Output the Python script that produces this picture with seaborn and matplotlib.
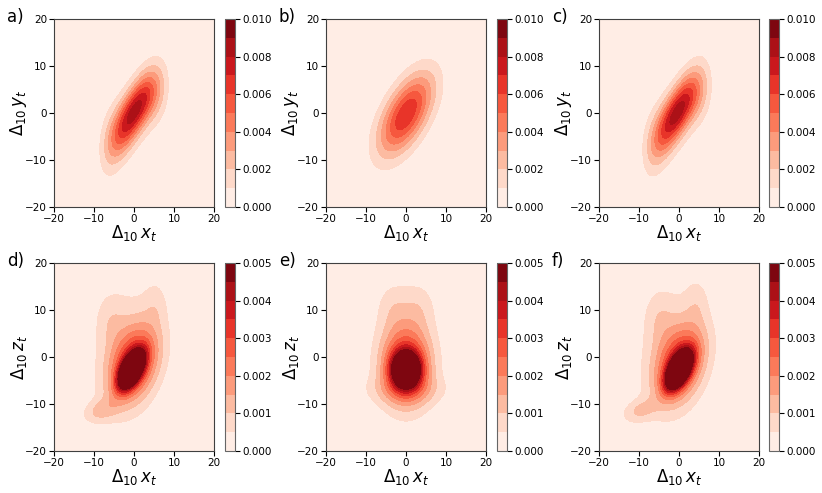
import numpy as np
import matplotlib
matplotlib.use("Agg")
import matplotlib.pyplot as plt
import matplotlib.ticker as mticker
import seaborn as sns

# each panel: weighted density centres,
# with the spread (sx, sy) and correlation of the kernel around each centre
a_x = [-7.0, -5.6, -4.2, -2.8, -1.4, 0.0, 1.4, 2.8, 4.2, 5.6, 7.0, 0.0]
a_y = [-8.3, -6.8, -5.2, -3.6, -1.7, 0.2, 2.1, 3.8, 4.8, 5.4, 5.9, -0.5]
a_w = [0.032, 0.048, 0.067, 0.085, 0.097, 0.102, 0.097, 0.085, 0.067, 0.048, 0.032, 0.24]
a_sx = [1.6] * 11 + [5.5]
a_sy = [4.6, 4.2, 3.8, 3.5, 3.3, 3.2, 3.3, 3.5, 3.8, 4.2, 4.6, 7.0]
a_rho = [0.1] * 11 + [0.5]

b_x = [-6.0, -4.0, -2.0, 0.0, 2.0, 4.0, 6.0, 0.0]
b_y = [-7.2, -4.9, -2.6, -0.3, 2.0, 4.3, 6.6, -0.3]
b_w = [0.045, 0.101, 0.166, 0.196, 0.166, 0.101, 0.045, 0.18]
b_sx = [3.2] * 7 + [6.0]
b_sy = [4.4] * 7 + [7.5]
b_rho = [0.25] * 7 + [0.55]

c_x = [-7.5, -6.1, -4.7, -3.3, -1.9, -0.5, 0.9, 2.3, 3.7, 5.1, 6.5, -0.5]
c_y = [-8.3, -7.0, -5.4, -3.7, -1.8, 0.0, 1.9, 3.6, 4.8, 5.5, 6.0, -0.7]
c_w = [0.032, 0.048, 0.067, 0.085, 0.097, 0.102, 0.097, 0.085, 0.067, 0.048, 0.032, 0.24]
c_sx = [1.6] * 11 + [5.5]
c_sy = [4.6, 4.2, 3.8, 3.5, 3.3, 3.2, 3.3, 3.5, 3.8, 4.2, 4.6, 7.0]
c_rho = [0.1] * 11 + [0.5]

d_x = [-0.7, 0.0, -1.5, -8.5, 5.5, -6.0]
d_y = [-2.8, -1.5, 1.5, -11.5, 11.5, 8.0]
d_w = [0.21, 0.41, 0.30, 0.03, 0.02, 0.03]
d_sx = [2.0, 4.2, 6.0, 3.0, 2.0, 2.5]
d_sy = [2.5, 5.5, 9.5, 1.8, 3.5, 4.0]
d_rho = [0.55, 0.35, 0.1, 0.3, 0.0, 0.0]

e_x = [0.0, 0.0, 0.0, 0.0, -3.5, 3.5]
e_y = [-2.7, -2.0, 1.5, -7.0, 11.0, 11.0]
e_w = [0.22, 0.40, 0.26, 0.07, 0.025, 0.025]
e_sx = [2.3, 4.2, 5.0, 7.5, 2.8, 2.8]
e_sy = [2.4, 5.5, 8.5, 2.2, 3.5, 3.5]
e_rho = [0.0, 0.0, 0.0, 0.0, 0.0, 0.0]

f_x = [0.0, 0.3, -1.5, -10.0, 4.5, -5.0]
f_y = [-2.8, -1.5, 1.5, -11.5, 12.0, 8.5]
f_w = [0.22, 0.40, 0.30, 0.03, 0.02, 0.03]
f_sx = [2.1, 4.2, 6.0, 3.0, 2.0, 2.5]
f_sy = [2.6, 5.5, 9.5, 1.8, 3.5, 4.0]
f_rho = [0.55, 0.35, 0.1, 0.3, 0.0, 0.0]

panels = [
    ("a)", r"$\Delta_{10}\,y_t$", 0.010, a_x, a_y, a_w, a_sx, a_sy, a_rho),
    ("b)", r"$\Delta_{10}\,y_t$", 0.010, b_x, b_y, b_w, b_sx, b_sy, b_rho),
    ("c)", r"$\Delta_{10}\,y_t$", 0.010, c_x, c_y, c_w, c_sx, c_sy, c_rho),
    ("d)", r"$\Delta_{10}\,z_t$", 0.005, d_x, d_y, d_w, d_sx, d_sy, d_rho),
    ("e)", r"$\Delta_{10}\,z_t$", 0.005, e_x, e_y, e_w, e_sx, e_sy, e_rho),
    ("f)", r"$\Delta_{10}\,z_t$", 0.005, f_x, f_y, f_w, f_sx, f_sy, f_rho),
]


def density(xx, yy, cx, cy, w, sx, sy, rho):
    z = np.zeros_like(xx)
    for x0, y0, wt, s1, s2, r in zip(cx, cy, w, sx, sy, rho):
        u = (xx - x0) / s1
        v = (yy - y0) / s2
        q = (u**2 - 2 * r * u * v + v**2) / (1 - r**2)
        z += wt / (2 * np.pi * s1 * s2 * np.sqrt(1 - r**2)) * np.exp(-0.5 * q)
    return z


sns.set_style("ticks")
plt.rcParams["font.family"] = ["DejaVu Sans"]
plt.rcParams["mathtext.fontset"] = "dejavusans"
for k in ["text.color", "axes.labelcolor", "xtick.color", "ytick.color"]:
    plt.rcParams[k] = "black"

W, H = 822, 493
fig = plt.figure(figsize=(W / 100, H / 100), dpi=100)

g = np.linspace(-20, 20, 401)
xx, yy = np.meshgrid(g, g)

ax_left = [54, 326, 599]
cb_left = [225, 497, 769]
row_top = [19, 263]
ax_w, ax_h, cb_w = 160, 188, 10

for i, (tag, ylab, top, cx, cy, w, sx, sy, rho) in enumerate(panels):
    r, c = divmod(i, 3)
    bottom = 1 - (row_top[r] + ax_h) / H
    ax = fig.add_axes([ax_left[c] / W, bottom, ax_w / W, ax_h / H])
    cax = fig.add_axes([cb_left[c] / W, bottom, cb_w / W, ax_h / H])
    z = density(xx, yy, cx, cy, w, sx, sy, rho)
    z = np.clip(z, 0, top * 0.9999)
    cs = ax.contourf(xx, yy, z, levels=np.linspace(0, top, 11), cmap="Reds")
    ax.set_xlim(-20, 20)
    ax.set_ylim(-20, 20)
    ax.set_xticks([-20, -10, 0, 10, 20])
    ax.set_yticks([-20, -10, 0, 10, 20])
    ax.tick_params(labelsize=7.5, length=3.5, width=0.8, pad=1.5)
    ax.set_xlabel(r"$\Delta_{10}\,x_t$", fontsize=12)
    ax.set_ylabel(ylab, fontsize=12)
    ax.xaxis.set_label_coords(0.5, -16 / ax_h)
    ax.yaxis.set_label_coords(-25 / ax_w, 0.5)
    for s in ax.spines.values():
        s.set_linewidth(0.8)
        s.set_color("0.25")
    cb = fig.colorbar(cs, cax=cax, ticks=np.linspace(0, top, 6))
    cb.ax.yaxis.set_major_formatter(mticker.FormatStrFormatter("%.3f"))
    cb.ax.tick_params(labelsize=7.5, length=3.5, width=0.8, pad=2)
    cb.outline.set_linewidth(0.8)
    cb.outline.set_edgecolor("0.4")
    fig.text((ax_left[c] - 47) / W, 1 - (row_top[r] - 11) / H, tag, fontsize=12,
             ha="left", va="top")

fig.savefig("out.png", dpi=100)
